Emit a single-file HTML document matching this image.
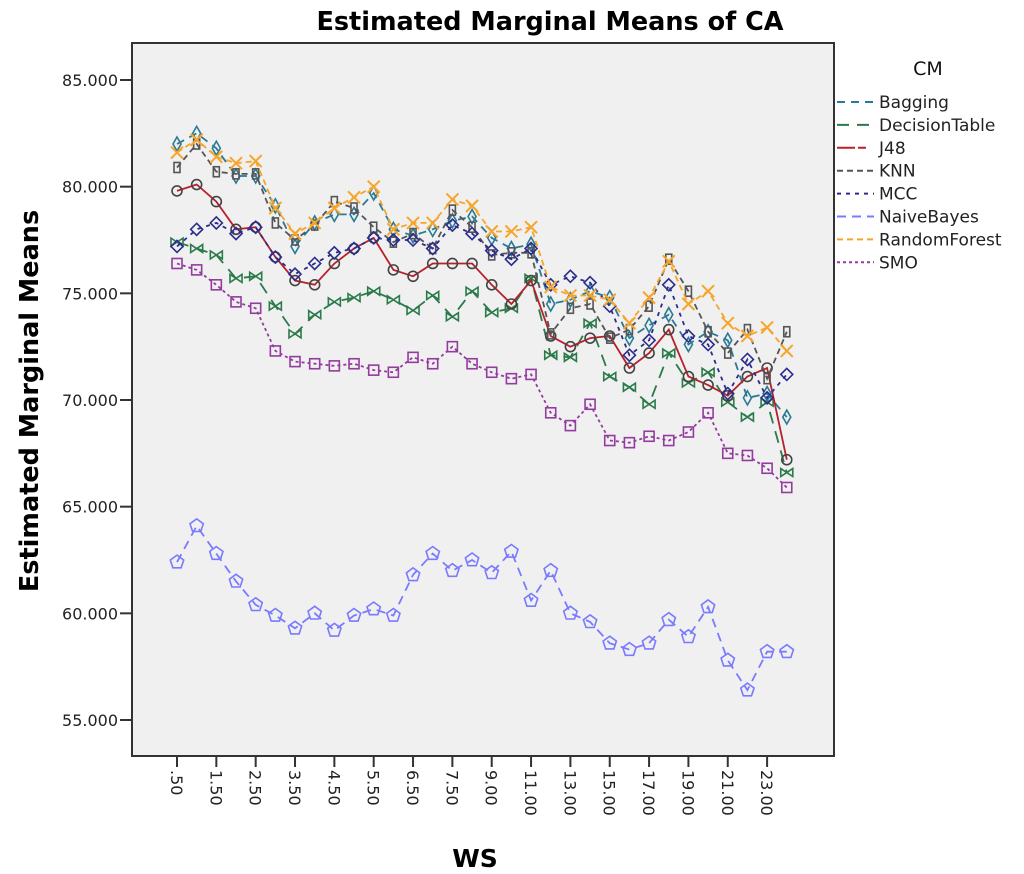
<!DOCTYPE html>
<html><head><meta charset="utf-8"><style>
body{margin:0;background:#fff;}
svg{display:block;font-family:"DejaVu Sans","Liberation Sans",sans-serif;}
</style></head><body>
<svg id="chart" width="1024" height="874" viewBox="0 0 1024 874">
<text x="550" y="30" text-anchor="middle" font-size="25.5" font-weight="bold">Estimated Marginal Means of CA</text>
<rect x="132" y="43" width="702" height="713" fill="#f0f0f0" stroke="#333" stroke-width="2"/>
<text transform="translate(38,401) rotate(-90)" text-anchor="middle" font-size="25.5" font-weight="bold">Estimated Marginal Means</text>
<text x="475" y="867" text-anchor="middle" font-size="25" font-weight="bold">WS</text>
<g id="axes"></g><g id="series"></g><g id="legend"></g>
</svg>
<script>
const categories=[".50","1.00","1.50","2.00","2.50","3.00","3.50","4.00","4.50","5.00","5.50","6.00","6.50","7.00","7.50","8.00","9.00","10.00","11.00","12.00","13.00","14.00","15.00","16.00","17.00","18.00","19.00","20.00","21.00","22.00","23.00","24.00"];
const yTicks=[55,60,65,70,75,80,85];
const seriesNames=["Bagging","DecisionTable","J48","KNN","MCC","NaiveBayes","RandomForest","SMO"];
const bagging=[82.0,82.5,81.8,80.5,80.5,79.1,77.2,78.3,78.7,78.7,79.7,78.0,77.7,78.0,78.4,78.6,77.6,77.1,77.3,74.5,74.7,75.1,74.8,72.9,73.5,74.0,72.6,73.2,72.8,70.1,70.3,69.2];
const decisionTable=[77.4,77.1,76.8,75.7,75.8,74.4,73.1,74.0,74.6,74.8,75.1,74.7,74.2,74.9,73.9,75.1,74.1,74.3,75.7,72.1,72.0,73.6,71.1,70.6,69.8,72.2,70.8,71.3,69.9,69.2,69.9,66.6];
const j48=[79.8,80.1,79.3,78.0,78.1,76.7,75.6,75.4,76.4,77.1,77.6,76.1,75.8,76.4,76.4,76.4,75.4,74.5,75.6,73.0,72.5,72.9,73.0,71.5,72.2,73.3,71.1,70.7,70.2,71.1,71.5,67.2];
const knn=[80.9,82.0,80.7,80.6,80.6,78.3,77.5,78.2,79.3,79.0,78.1,77.4,77.8,77.1,78.9,78.1,76.8,76.9,76.9,73.1,74.3,74.5,72.9,73.3,74.4,76.6,75.1,73.2,72.2,73.3,71.0,73.2];
const mcc=[77.2,78.0,78.3,77.8,78.1,76.7,75.9,76.4,76.9,77.1,77.6,77.5,77.5,77.1,78.2,77.8,77.0,76.6,77.1,75.4,75.8,75.5,74.4,72.1,72.8,75.4,73.0,72.6,70.3,71.9,70.1,71.2];
const naiveBayes=[62.4,64.1,62.8,61.5,60.4,59.9,59.3,60.0,59.2,59.9,60.2,59.9,61.8,62.8,62.0,62.5,61.9,62.9,60.6,62.0,60.0,59.6,58.6,58.3,58.6,59.7,58.9,60.3,57.8,56.4,58.2,58.2];
const randomForest=[81.6,82.2,81.4,81.1,81.2,79.0,77.8,78.3,79.0,79.5,80.0,78.0,78.3,78.3,79.4,79.1,77.9,77.9,78.1,75.3,74.9,74.9,74.7,73.6,74.8,76.5,74.5,75.1,73.6,73.0,73.4,72.3];
const smo=[76.4,76.1,75.4,74.6,74.3,72.3,71.8,71.7,71.6,71.7,71.4,71.3,72.0,71.7,72.5,71.7,71.3,71.0,71.2,69.4,68.8,69.8,68.1,68.0,68.3,68.1,68.5,69.4,67.5,67.4,66.8,65.9];

const NS="http://www.w3.org/2000/svg";
function mk(tag,attrs,parent){const e=document.createElementNS(NS,tag);for(const k in attrs)e.setAttribute(k,attrs[k]);parent.appendChild(e);return e;}
function xs(i){return 177+19.67*i;}
function ys(v){return 720-(v-55)*21.333;}
const axes=document.getElementById('axes');
yTicks.forEach(t=>{
  const l=mk('line',{x1:120,x2:132,y1:ys(t),y2:ys(t),stroke:'#333','stroke-width':2},axes);
  
  
  const tx=mk('text',{x:118,y:ys(t)+6,'text-anchor':'end','font-size':16,fill:'#222'},axes);
  tx.textContent=t.toFixed(3);
  
  
});
categories.forEach((c,i)=>{
  if(i%2!==0)return;
  const x=xs(i);
  const l=mk('line',{x1:x,x2:x,y1:756,y2:767,stroke:'#333','stroke-width':2},axes);
  
  
  const tx=mk('text',{transform:`translate(${x-6},770) rotate(90)`,'font-size':16,fill:'#222'},axes);
  tx.textContent=c;
  
  
});
const seriesData=[bagging,decisionTable,j48,knn,mcc,naiveBayes,randomForest,smo];
const colors=["#2a7a95","#2a7a4a","#b8202a","#555555","#2c2c8c","#7a7aff","#f7a52a","#933b9e"];
const dashes=["8,6","12,8","none","6,4","4,5","9,6","6,4","3,3"];
const markers=["diamond","bowtie","circle","rect","diamond2","pentagon","x","square"];
const sg=document.getElementById('series');
function marker(type,x,y,col,g){
  let e;
  if(type==='circle')e=mk('circle',{cx:x,cy:y,r:5,fill:'none',stroke:'#444','stroke-width':1.6},g);
  else if(type==='square')e=mk('rect',{x:x-5,y:y-5,width:10,height:10,fill:'none',stroke:col,'stroke-width':1.6},g);
  else if(type==='rect')e=mk('rect',{x:x-3,y:y-5,width:6,height:10,fill:'none',stroke:col,'stroke-width':1.6},g);
  else if(type==='diamond')e=mk('polygon',{points:`${x},${y-7} ${x+4},${y} ${x},${y+7} ${x-4},${y}`,fill:'none',stroke:col,'stroke-width':1.6},g);
  else if(type==='diamond2')e=mk('polygon',{points:`${x},${y-6} ${x+6},${y} ${x},${y+6} ${x-6},${y}`,fill:'none',stroke:col,'stroke-width':1.6},g);
  else if(type==='bowtie')e=mk('polygon',{points:`${x-6},${y-4} ${x+6},${y+4} ${x+6},${y-4} ${x-6},${y+4}`,fill:'none',stroke:col,'stroke-width':1.6},g);
  else if(type==='pentagon'){let p=[];for(let k=0;k<5;k++){const a=-Math.PI/2+k*2*Math.PI/5;p.push((x+7*Math.cos(a)).toFixed(1)+','+(y+7*Math.sin(a)).toFixed(1));}e=mk('polygon',{points:p.join(' '),fill:'none',stroke:col,'stroke-width':1.6},g);}
  else if(type==='x')e=mk('path',{d:`M${x-6},${y-6}L${x+6},${y+6}M${x+6},${y-6}L${x-6},${y+6}`,stroke:col,'stroke-width':2},g);
  
  
}
seriesData.forEach((vals,s)=>{
  const g=mk('g',{},sg);
  
  
  const d=vals.map((v,i)=>(i?'L':'M')+xs(i).toFixed(1)+','+ys(v).toFixed(1)).join('');
  const p=mk('path',{d:d,fill:'none',stroke:colors[s],'stroke-width':1.8,'stroke-dasharray':dashes[s]},g);
  
  
  vals.forEach((v,i)=>marker(markers[s],xs(i),ys(v),colors[s],g));
});
const lg=document.getElementById('legend');
const lt=mk('text',{x:928,y:75,'text-anchor':'middle','font-size':19,fill:'#111'},lg);
lt.textContent='CM';


seriesNames.forEach((n,s)=>{
  const y=102+22.9*s;
  const g=mk('g',{},lg);
  
  
  mk('line',{x1:837,x2:874,y1:y,y2:y,stroke:colors[s],'stroke-width':2,'stroke-dasharray':dashes[s]==='none'?'18,3,8':dashes[s]},g);
  const t=mk('text',{x:879,y:y+6,'font-size':17,fill:'#222'},g);
  t.textContent=n;
});
</script>
</body></html>
